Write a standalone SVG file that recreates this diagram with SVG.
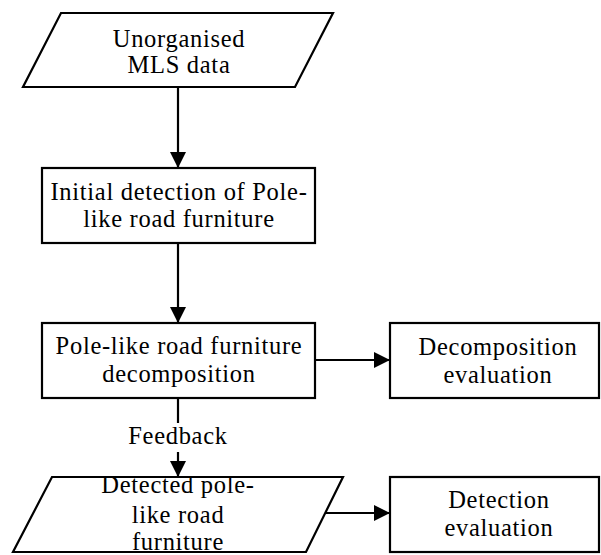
<svg xmlns="http://www.w3.org/2000/svg" width="601" height="555" viewBox="0 0 601 555">
  <defs>
    <marker id="arrow" viewBox="0 0 16 16" refX="16" refY="8" markerWidth="16" markerHeight="16" markerUnits="userSpaceOnUse" orient="auto">
      <path d="M0,0 L16,8 L0,16 Z" fill="#000"/>
    </marker>
    <style>
      .shape { fill: #fff; stroke: #000; stroke-width: 2.2; }
      .edge { fill: none; stroke: #000; stroke-width: 2.2; }
      text { font-family: "Liberation Serif", "Times New Roman", serif; font-size: 24.5px; letter-spacing: 0.7px; text-anchor: middle; fill: #000; }
    </style>
  </defs>

  <rect width="601" height="555" fill="#fff"/>

  <!-- connectors -->
  <g id="connectors">
    <line class="edge" x1="178" y1="87" x2="178" y2="168" marker-end="url(#arrow)"/>
    <line class="edge" x1="178" y1="243" x2="178" y2="323" marker-end="url(#arrow)"/>
    <line class="edge" x1="315" y1="360" x2="390" y2="360" marker-end="url(#arrow)"/>
    <line class="edge" x1="178" y1="398" x2="178" y2="423"/>
    <line class="edge" x1="178" y1="452" x2="178" y2="477" marker-end="url(#arrow)"/>
    <text x="178" y="444">Feedback</text>
    <line class="edge" x1="325" y1="513" x2="390" y2="513" marker-end="url(#arrow)"/>
  </g>

  <!-- input data -->
  <g id="mls-data">
    <polygon class="shape" points="61,13 333,13 295,87 23,87"/>
    <text x="179" y="47">Unorganised</text>
    <text x="179" y="73">MLS data</text>
  </g>

  <!-- initial detection step -->
  <g id="initial-detection">
    <rect class="shape" x="42" y="168" width="273" height="75"/>
    <text x="179" y="200">Initial detection of Pole-</text>
    <text x="179" y="227">like road furniture</text>
  </g>

  <!-- decomposition step -->
  <g id="decomposition">
    <rect class="shape" x="42" y="323" width="273" height="75"/>
    <text x="179" y="354">Pole-like road furniture</text>
    <text x="179" y="382">decomposition</text>
  </g>

  <!-- decomposition evaluation -->
  <g id="decomposition-evaluation">
    <rect class="shape" x="390" y="323" width="209" height="75"/>
    <text x="498" y="355">Decomposition</text>
    <text x="498" y="383">evaluation</text>
  </g>

  <!-- detected output -->
  <g id="detected-furniture">
    <polygon class="shape" points="52,477 343,477 306,552 13,552"/>
    <text x="178" y="493">Detected pole-</text>
    <text x="178" y="523">like road</text>
    <text x="178" y="550">furniture</text>
  </g>

  <!-- detection evaluation -->
  <g id="detection-evaluation">
    <rect class="shape" x="390" y="477" width="209" height="75"/>
    <text x="499" y="508">Detection</text>
    <text x="499" y="536">evaluation</text>
  </g>
</svg>
